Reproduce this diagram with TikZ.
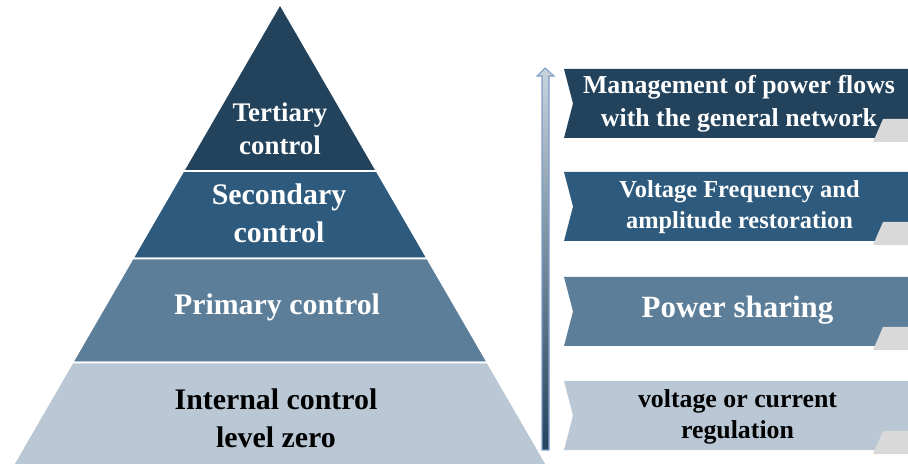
\documentclass[tikz,border=0pt]{standalone}
\usepackage{fontspec}
\setmainfont{Liberation Serif}
\usetikzlibrary{shapes.geometric, arrows}
\definecolor{navy}{HTML}{23435D}
\definecolor{steel}{HTML}{2E5B7D}
\definecolor{slate}{HTML}{5D7E99}
\definecolor{mist}{HTML}{B9C8D4}
\definecolor{tabgrey}{HTML}{D9D9D9}
\definecolor{arrowedge}{HTML}{7F9DC9}
\tikzstyle{layer} = [draw=white, line width=1pt]
\tikzstyle{tiertext} = [align=center, text=white, font=\bfseries\fontsize{17}{21.5}\selectfont]
\tikzstyle{bantext} = [align=center, text=white, font=\bfseries\fontsize{14.7}{18.7}\selectfont]
\tikzstyle{uparrow} = [draw=arrowedge, line width=0.6pt, top color=mist!80!white, bottom color=navy]

\begin{document}
\begin{tikzpicture}[x=0.02cm, y=-0.02cm]
  \useasboundingbox (0,0) rectangle (908,465);
  % pyramid, top to bottom
  \filldraw[layer, fill=navy] (280,4) -- (376.7,171) -- (183.3,171) -- cycle;
  \filldraw[layer, fill=steel] (183.3,171) -- (376.7,171) -- (427.4,258.5) -- (132.6,258.5) -- cycle;
  \filldraw[layer, fill=slate] (132.6,258.5) -- (427.4,258.5) -- (487.6,362.5) -- (72.4,362.5) -- cycle;
  \filldraw[layer, fill=mist] (72.4,362.5) -- (487.6,362.5) -- (546.9,465) -- (13.1,465) -- cycle;
  \node (tertiary) [tiertext, font=\bfseries\fontsize{15.3}{19}\selectfont] at (280,129) {Tertiary\\control};
  \node (secondary) [tiertext] at (279,213) {Secondary\\control};
  \node (primary) [tiertext] at (277,307) {Primary control};
  \node (internal) [tiertext, text=black] at (276,418) {Internal control\\level zero};
  % rising arrow beside the pyramid
  \draw[uparrow] (542,450) -- (542,76) -- (537,76) -- (545,68) -- (554,76) -- (549,76) -- (549,450) -- cycle;
  % ribbons with their folded tabs
  \foreach \t/\c in {69/navy, 172/steel, 277/slate, 381/mist} {
    \fill[\c] (564,\t) -- (908,\t) -- (908,\t+69) -- (564,\t+69) -- (573,\t+34.5) -- cycle;
    \fill[tabgrey] (883,\t+50) -- (908,\t+50) -- (908,\t+73) -- (873,\t+73) -- cycle;
  }
  \node (flows) [bantext] at (739,104) {Management of power flows\\with the general network};
  \node (restore) [bantext, font=\bfseries\fontsize{13.9}{18}\selectfont] at (739.5,207) {Voltage Frequency and\\amplitude restoration};
  \node (sharing) [bantext, font=\bfseries\fontsize{17.6}{21}\selectfont] at (737.5,310) {Power sharing};
  \node (regulation) [bantext, text=black, font=\bfseries\fontsize{14.7}{17.6}\selectfont] at (737.5,417) {voltage or current\\regulation};
\end{tikzpicture}
\end{document}
